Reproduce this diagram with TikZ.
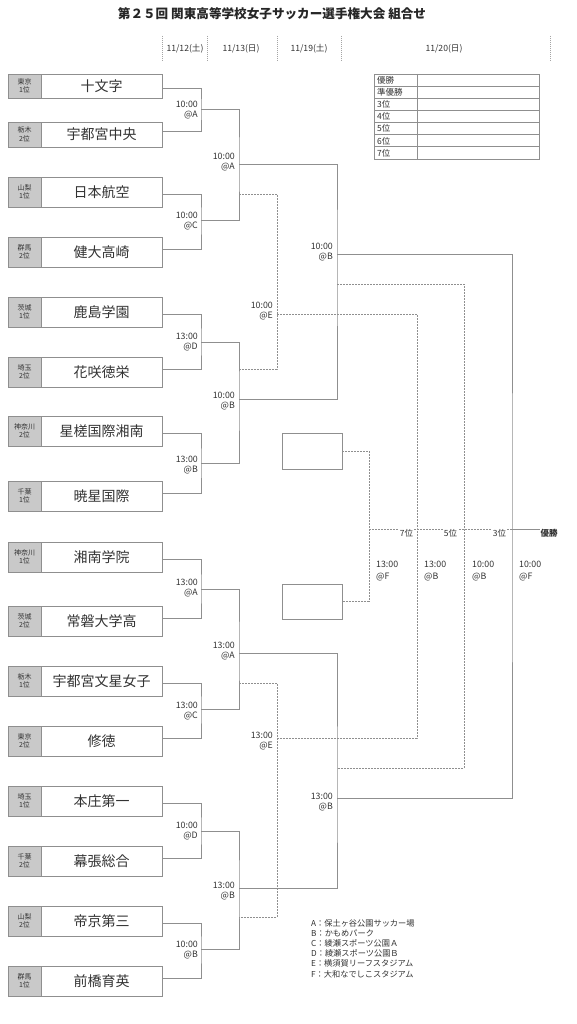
\documentclass[tikz,border=0pt]{standalone}
\usepackage{fontspec}
\setmainfont{Noto Sans CJK JP}
\definecolor{ln}{HTML}{8F8F8F}
\definecolor{tx}{HTML}{333333}
\definecolor{pf}{HTML}{C9C9C9}
\tikzset{
  conn/.style={draw=ln, line width=0.9pt},
  loss/.style={draw=ln, line width=0.7pt, dash pattern=on 2pt off 1pt},
  sep/.style={draw=ln!80, line width=0.7pt, dash pattern=on 1pt off 1pt},
  teambox/.style={draw=ln, line width=0.9pt, fill=white, minimum width=121pt, minimum height=#1, inner sep=0pt, font=\fontsize{14}{16}\selectfont, text=tx},
  prefbox/.style={draw=ln, line width=0.9pt, fill=pf, minimum width=33pt, minimum height=#1, inner sep=0pt, align=center, font=\fontsize{7}{8.5}\selectfont, text=tx},
  emptybox/.style={draw=ln, line width=0.9pt, fill=white, minimum width=60pt, minimum height=#1, inner sep=0pt},
  tlabel/.style={anchor=east, align=right, inner sep=0pt, font=\fontsize{8.8}{10.8}\selectfont, text=tx},
  blabel/.style={anchor=west, align=left, inner sep=0pt, font=\fontsize{8.8}{12}\selectfont, text=tx},
  plabel/.style={anchor=east, inner sep=0.6pt, fill=white, font=\fontsize{8.5}{9}\selectfont, text=tx},
  datelabel/.style={inner sep=0pt, font=\fontsize{8.6}{10}\selectfont, text=tx},
  rowlabel/.style={anchor=west, inner sep=0pt, font=\fontsize{8.5}{9}\selectfont, text=tx},
}
\newcommand\teamrow[6]{%
  \node[prefbox=#3] (p#1) at (24.5,#2) {#4\\#5};
  \node[teambox=#3] (t#1) at (101.5,#2) {#6};
}
\begin{document}
\begin{tikzpicture}[x=1pt,y=-1pt]
\fill[white] (0,0) rectangle (576,1024);
\useasboundingbox (0,0) rectangle (576,1024);

% title
\node[font=\fontsize{12.6}{14}\selectfont\bfseries, text=black!85, inner sep=0pt] (title) at (272,14) {第２５回 関東高等学校女子サッカー選手権大会 組合せ};

% date header
\foreach \x [count=\i] in {162,207,277,341,550} {
  \coordinate (sa\i) at (\x,36);
  \coordinate (sb\i) at (\x,62);
  \draw[sep] (sa\i) -- (sb\i);
}
\node[datelabel] (d1) at (185,49) {11/12(土)};
\node[datelabel] (d2) at (241,49) {11/13(日)};
\node[datelabel] (d3) at (309,49) {11/19(土)};
\node[datelabel] (d4) at (444,49) {11/20(日)};

% result table
\draw[ln, line width=0.8pt] (374,74) rectangle (539,159);
\draw[ln, line width=0.8pt] (417,74) -- (417,159);
\foreach \k in {1,...,6} {
  \draw[ln, line width=0.8pt] (374,{74+\k*85/7}) -- (539,{74+\k*85/7});
}
\foreach \lab [count=\k] in {優勝,準優勝,3位,4位,5位,6位,7位} {
  \node[rowlabel] (r\k) at (377,{74+(\k-0.5)*85/7}) {\lab};
}

% teams
\teamrow{1}{86}{24pt}{東京}{1位}{十文字}
\teamrow{2}{134.5}{25pt}{栃木}{2位}{宇都宮中央}
\teamrow{3}{192}{30pt}{山梨}{1位}{日本航空}
\teamrow{4}{252}{30pt}{群馬}{2位}{健大高崎}
\teamrow{5}{312}{30pt}{茨城}{1位}{鹿島学園}
\teamrow{6}{372}{30pt}{埼玉}{2位}{花咲徳栄}
\teamrow{7}{431}{30pt}{神奈川}{2位}{星槎国際湘南}
\teamrow{8}{496}{30pt}{千葉}{1位}{暁星国際}
\teamrow{9}{557}{30pt}{神奈川}{1位}{湘南学院}
\teamrow{10}{621}{30pt}{茨城}{2位}{常磐大学高}
\teamrow{11}{681}{30pt}{栃木}{1位}{宇都宮文星女子}
\teamrow{12}{741}{30pt}{東京}{2位}{修徳}
\teamrow{13}{801}{30pt}{埼玉}{1位}{本庄第一}
\teamrow{14}{861}{30pt}{千葉}{2位}{幕張総合}
\teamrow{15}{921}{30pt}{山梨}{2位}{帝京第三}
\teamrow{16}{981}{30pt}{群馬}{1位}{前橋育英}

% empty boxes for 7th place
\node[emptybox=36pt] (e1) at (312,451) {};
\node[emptybox=35pt] (e2) at (312,601.5) {};

% junction coordinates
\coordinate (m1) at (201,109);
\coordinate (m2) at (201,220);
\coordinate (m3) at (201,342);
\coordinate (m4) at (201,463);
\coordinate (m5) at (201,589);
\coordinate (m6) at (201,709);
\coordinate (m7) at (201,831);
\coordinate (m8) at (201,949);
\coordinate (r2a) at (239,164);
\coordinate (l2a) at (239,194);
\coordinate (l2b) at (239,369);
\coordinate (r2b) at (239,399);
\coordinate (r2c) at (239,653);
\coordinate (l2c) at (239,683);
\coordinate (l2d) at (239,917);
\coordinate (r2d) at (239,888);
\coordinate (lf1) at (277,314);
\coordinate (lf2) at (277,738);
\coordinate (sf1) at (337,254);
\coordinate (sl1) at (337,284);
\coordinate (sl2) at (337,768);
\coordinate (sf2) at (337,798);
\coordinate (seventh) at (369,529);
\coordinate (fifth) at (417,529);
\coordinate (third) at (464,529);
\coordinate (fin) at (512,529);
\coordinate (winend) at (540,529);

% first round
\foreach \a/\b/\m in {1/2/m1,3/4/m2,5/6/m3,7/8/m4,9/10/m5,11/12/m6,13/14/m7,15/16/m8} {
  \draw[conn] ([yshift=-2pt]t\a.east) -| (\m) |- ([yshift=3pt]t\b.east);
}
% second round
\draw[conn] (m1) -| (r2a) |- (m2);
\draw[conn] (m3) -| (r2b) |- (m4);
\draw[conn] (m5) -| (r2c) |- (m6);
\draw[conn] (m7) -| (r2d) |- (m8);
% semi finals
\draw[conn] (r2a) -| (sf1) |- (r2b);
\draw[conn] (r2c) -| (sf2) |- (r2d);
% losers of second round
\draw[loss] (l2a) -| (lf1) |- (l2b);
\draw[loss] (l2c) -| (lf2) |- (l2d);
% final and placement
\draw[conn] (sf1) -| (fin) |- (sf2);
\draw[loss] (sl1) -| (third) |- (sl2);
\draw[loss] (lf1) -| (fifth) |- (lf2);
\draw[loss] (e1.east) -| (seventh) |- (e2.east);
\draw[loss] (seventh) -- (fin);
\draw[conn] (fin) -- (winend);

\node[plabel] (p7) at ([xshift=-3pt,yshift=-4pt]fifth) {7位};
\node[plabel] (p5) at ([xshift=-6pt,yshift=-4pt]third) {5位};
\node[plabel] (p3) at ([xshift=-5pt,yshift=-4pt]fin) {3位};
\node[anchor=west, inner sep=0.5pt, font=\fontsize{8.5}{9}\selectfont\bfseries, text=tx] (pw) at ([yshift=-4pt]winend) {優勝};

% time labels
\node[tlabel] at (198,110) {10:00\\@A};
\node[tlabel] at (198,221) {10:00\\@C};
\node[tlabel] at (198,342) {13:00\\@D};
\node[tlabel] at (198,465) {13:00\\@B};
\node[tlabel] at (198,588) {13:00\\@A};
\node[tlabel] at (198,711) {13:00\\@C};
\node[tlabel] at (198,831) {10:00\\@D};
\node[tlabel] at (198,950) {10:00\\@B};
\node[tlabel] at (235,162) {10:00\\@A};
\node[tlabel] at (235,401) {10:00\\@B};
\node[tlabel] at (235,651) {13:00\\@A};
\node[tlabel] at (235,891) {13:00\\@B};
\node[tlabel] at (273,311) {10:00\\@E};
\node[tlabel] at (273,741) {13:00\\@E};
\node[tlabel] at (333,252) {10:00\\@B};
\node[tlabel] at (333,802) {13:00\\@B};
\node[blabel] at (376,571) {13:00\\@F};
\node[blabel] at (424,571) {13:00\\@B};
\node[blabel] at (472,571) {10:00\\@B};
\node[blabel] at (519,571) {10:00\\@F};

% legend
\node[anchor=north west, align=left, inner sep=0pt, font=\fontsize{8.2}{10.2}\selectfont, text=tx] (legend) at (311,919) {A：保土ヶ谷公園サッカー場\\B：かもめパーク\\C：綾瀬スポーツ公園Ａ\\D：綾瀬スポーツ公園Ｂ\\E：横須賀リーフスタジアム\\F：大和なでしこスタジアム};
\end{tikzpicture}
\end{document}
